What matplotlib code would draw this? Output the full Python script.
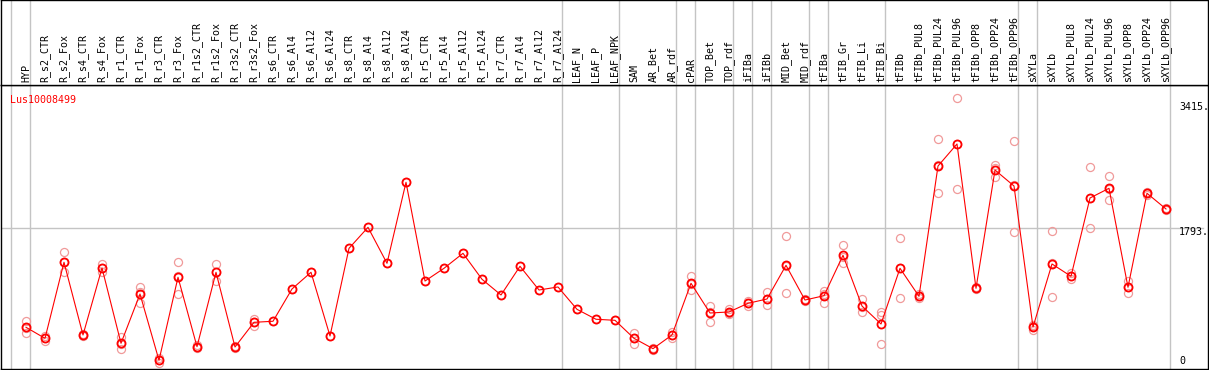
import numpy as np
import matplotlib.pyplot as plt
from matplotlib.transforms import offset_copy

gene = 'Lus10008499'

# sample groups (grey separators after each group)
groups = [
    ['HYP'],
    ['R_s2_CTR', 'R_s2_Fox', 'R_s4_CTR', 'R_s4_Fox', 'R_r1_CTR', 'R_r1_Fox',
     'R_r3_CTR', 'R_r3_Fox', 'R_r1s2_CTR', 'R_r1s2_Fox', 'R_r3s2_CTR', 'R_r3s2_Fox',
     'R_s6_CTR', 'R_s6_Al4', 'R_s6_Al12', 'R_s6_Al24', 'R_s8_CTR', 'R_s8_Al4',
     'R_s8_Al12', 'R_s8_Al24', 'R_r5_CTR', 'R_r5_Al4', 'R_r5_Al12', 'R_r5_Al24',
     'R_r7_CTR', 'R_r7_Al4', 'R_r7_Al12', 'R_r7_Al24'],
    ['LEAF_N', 'LEAF_P', 'LEAF_NPK'],
    ['SAM', 'AR_Bet', 'AR_rdf'],
    ['cPAR'],
    ['TOP_Bet', 'TOP_rdf'],
    ['iFIBa'],
    ['iFIBb'],
    ['MID_Bet', 'MID_rdf'],
    ['tFIBa'],
    ['tFIB_Gr', 'tFIB_Li', 'tFIB_Bi'],
    ['tFIBb', 'tFIBb_PUL8', 'tFIBb_PUL24', 'tFIBb_PUL96', 'tFIBb_OPP8', 'tFIBb_OPP24', 'tFIBb_OPP96'],
    ['sXYLa'],
    ['sXYLb', 'sXYLb_PUL8', 'sXYLb_PUL24', 'sXYLb_PUL96', 'sXYLb_OPP8', 'sXYLb_OPP24', 'sXYLb_OPP96'],
]
samples = [s for g in groups for s in g]

means = [558, 420, 1369, 462, 1298, 358, 973, 146, 1182, 316, 1244, 312, 620,
         633, 1036, 1244, 449, 1543, 1805, 1356, 2367, 1135, 1294, 1481, 1157,
         961, 1319, 1023, 1061,
         782, 658, 645,
         420, 291, 462,
         1107,
         736, 749,
         857, 911,
         1331, 898,
         952,
         1456, 823, 599,
         1294, 944, 2570, 2845, 1044, 2520, 2321,
         561,
         1348, 1194, 2171, 2292, 1057, 2230, 2034]

reps = [[636, 490, 548], [391, 425, 444], [1494, 1244, 1369], [450, 462, 474],
        [1348, 1251, 1295], [433, 287, 354], [1061, 857, 1001], [116, 150, 172],
        [1369, 977, 1200], [300, 316, 332], [1344, 1135, 1253], [300, 312, 324],
        [658, 578, 624],
        [633], [1036], [1244], [449], [1543], [1805], [1356], [2367], [1135],
        [1294], [1481], [1157], [961], [1319], [1023], [1061],
        [782], [658], [645],
        [490, 349, 421], [280, 291, 302], [503, 420, 463],
        [1198, 1023, 1100],
        [827, 628, 753], [786, 735, 726],
        [890, 823, 858], [994, 832, 907],
        [1693, 982, 1318], [890, 898, 906],
        [1014, 865, 977],
        [1581, 1356, 1431], [911, 745, 813], [745, 707, 346],
        [1668, 920, 1294], [944, 920, 968], [2903, 2230, 2577], [3415, 2280, 2840],
        [1030, 1044, 1058], [2583, 2437, 2540], [2882, 1743, 2338],
        [524, 578, 581],
        [1755, 932, 1357], [1231, 1157, 1194], [2554, 1793, 2166], [2442, 2146, 2288],
        [1132, 982, 1057], [2210, 2230, 2250], [2020, 2034, 2048]]

yticks = [3415, 1793, 0]
ytick_labels = ['3415.', '1793.', '0']

grey = '#c4c4c4'
plt.rcParams['font.family'] = 'DejaVu Sans Mono'

fig = plt.figure(figsize=(12.09, 3.70), dpi=100)
ax = fig.add_axes([1 / 1209, 1 / 370, 1207 / 1209, 284 / 370])
hdr = fig.add_axes([1 / 1209, 285 / 370, 1207 / 1209, 85 / 370])

x = np.arange(len(samples))
xlim = (-25 / 19, 1182 / 19)
for a in (ax, hdr):
    a.set_xlim(*xlim)
    a.set_xticks([])
    a.set_yticks([])
    for sp in a.spines.values():
        sp.set_linewidth(1.0)
        sp.set_color('black')
ax.set_ylim(37.4, 3581)
hdr.set_ylim(0, 1)

# group separators
ends = np.cumsum([len(g) for g in groups]) - 1
for b in [-1] + list(ends):
    ax.axvline(b + 0.2, color=grey, lw=1.0, zorder=0)
    hdr.axvline(b + 0.2, color=grey, lw=1.0, zorder=0)
ax.axhline(1793, color=grey, lw=1.0, zorder=0, xmax=0.996)

# replicates
for i, r in enumerate(reps):
    ax.plot([i] * len(r), r, 'o', mfc='none', mec='#f09a9a', ms=5.8, mew=0.9, zorder=2)

ax.plot(x, means, '-', color='red', lw=0.8, zorder=3)
ax.plot(x, means, 'o', mfc='none', mec='red', ms=5.8, mew=1.3, zorder=4)

# sample labels in header
for i, s in enumerate(samples):
    hdr.text(i, 0.03, s, rotation=90, ha='center', va='bottom', fontsize=7.2, color='black')

ax.text(-0.84, 3400, gene, color='red', fontsize=7.2, ha='left', va='center')

# right-hand value labels
tx = xlim[1] - 1.53
for v, lab in zip(yticks, ytick_labels):
    if v == 0:
        tr = offset_copy(ax.transData, fig=fig, x=0, y=3, units='dots')
        ax.text(tx, ax.get_ylim()[0], lab, fontsize=7.2, ha='left', va='bottom', transform=tr)
    elif v == max(yticks):
        tr = offset_copy(ax.transData, fig=fig, x=0, y=-4, units='dots')
        ax.text(tx, v, lab, fontsize=7.2, ha='left', va='top', transform=tr)
    else:
        tr = offset_copy(ax.transData, fig=fig, x=0, y=-4, units='dots')
        ax.text(tx, v, lab, fontsize=7.2, ha='left', va='center', transform=tr)

plt.savefig('out.png', dpi=100)
